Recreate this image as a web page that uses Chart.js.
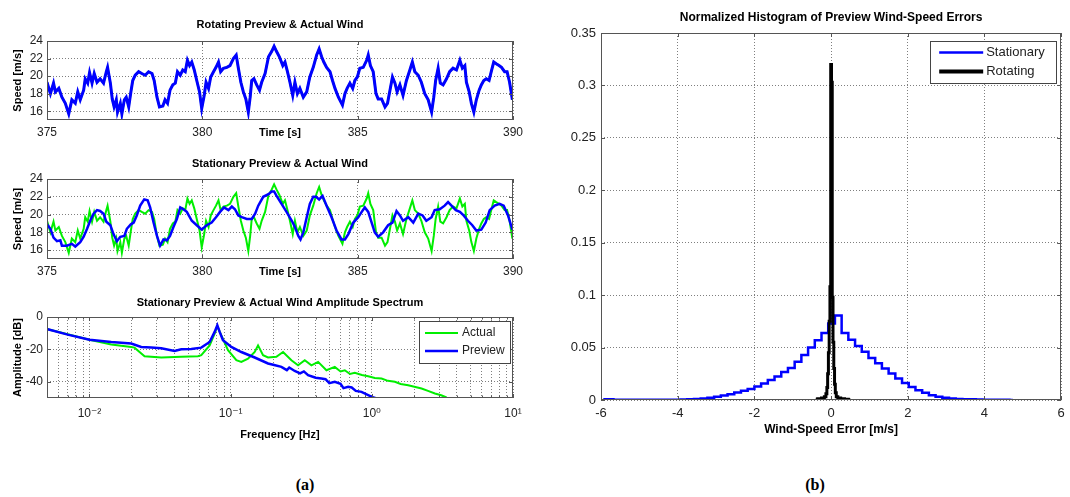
<!DOCTYPE html>
<html>
<head>
<meta charset="utf-8">
<script src="https://cdn.jsdelivr.net/npm/chart.js@4"></script>
<style>
body { margin: 0; background: #fff; width: 1070px; height: 497px; position: relative; overflow: hidden; }
canvas { position: absolute; }
.cap { position: absolute; top: 476px; width: 40px; text-align: center; font: bold 16px 'Liberation Serif', 'DejaVu Serif', serif; color: #000; }
</style>
</head>
<body>
<canvas id="rotChart" width="540" height="146" style="left:0;top:0"></canvas>
<canvas id="statChart" width="540" height="139" style="left:0;top:146px"></canvas>
<canvas id="specChart" width="540" height="160" style="left:0;top:285px"></canvas>
<canvas id="histChart" width="510" height="445" style="left:560px;top:0"></canvas>
<div class="cap" style="left:285px">(a)</div>
<div class="cap" style="left:795px">(b)</div>
<script>
// actual wind speed at the hub (also what the rotating preview sees)
var actualTime = [375.00,375.11,375.21,375.27,375.38,375.48,375.59,375.70,375.80,375.91,375.99,376.07,376.18,376.23,376.31,376.37,376.45,376.52,376.61,376.71,376.82,376.91,376.95,377.04,377.10,377.16,377.23,377.27,377.36,377.41,377.49,377.55,377.63,377.70,377.76,377.84,377.95,378.05,378.16,378.27,378.38,378.45,378.54,378.62,378.73,378.80,378.88,378.96,379.05,379.13,379.20,379.29,379.37,379.45,379.52,379.59,379.66,379.74,379.82,379.91,379.98,380.06,380.12,380.20,380.27,380.36,380.44,380.52,380.59,380.68,380.79,380.89,381.00,381.09,381.16,381.24,381.32,381.40,381.48,381.54,381.59,381.66,381.75,381.84,381.91,382.02,382.13,382.23,382.31,382.39,382.48,382.59,382.66,382.74,382.82,382.91,382.98,383.06,383.14,383.25,383.36,383.46,383.57,383.68,383.76,383.84,383.91,384.00,384.11,384.19,384.27,384.38,384.51,384.59,384.66,384.75,384.84,384.91,384.99,385.07,385.18,385.29,385.34,385.41,385.50,385.59,385.66,385.77,385.88,385.96,386.04,386.12,386.20,386.27,386.36,386.46,386.57,386.68,386.76,386.84,386.95,387.05,387.16,387.27,387.38,387.45,387.51,387.59,387.66,387.75,387.86,387.96,388.07,388.18,388.29,388.37,388.45,388.50,388.59,388.66,388.74,388.82,388.91,388.98,389.06,389.14,389.23,389.30,389.38,389.46,389.55,389.63,389.73,389.81,389.89,389.98];
var actualSpeed = [19.3,18.0,19.2,18.2,18.6,17.6,16.9,15.7,17.3,16.9,18.2,17.3,18.4,19.7,19.2,20.4,19.2,20.3,19.3,19.7,19.2,20.5,21.0,19.2,17.4,16.5,17.3,15.9,16.9,15.7,17.3,17.6,16.5,18.2,19.5,20.1,20.5,20.3,20.1,20.5,20.3,19.5,17.6,16.5,16.6,17.3,16.9,18.4,19.0,19.2,20.5,20.1,20.7,20.5,21.8,21.2,21.6,20.7,19.5,18.2,16.3,17.8,19.3,18.6,19.9,20.5,21.0,21.6,20.5,20.9,21.0,21.2,22.0,22.4,20.9,19.3,18.2,17.4,15.9,17.6,19.5,19.7,19.0,18.4,19.3,20.3,22.2,22.8,23.4,22.8,22.2,21.2,21.6,20.5,19.3,17.8,19.3,18.0,18.6,17.6,18.2,19.9,21.0,22.4,23.1,22.2,21.6,21.0,20.5,19.5,18.6,17.6,16.7,18.0,18.6,19.2,18.6,19.5,19.9,20.9,21.0,21.8,22.4,21.2,20.5,18.0,17.4,17.4,16.5,16.9,18.4,19.9,19.2,18.2,19.0,17.8,19.5,20.7,21.6,20.5,20.1,19.3,18.0,17.3,15.9,17.6,19.5,20.9,19.2,19.0,19.7,20.5,20.9,20.7,21.8,20.9,21.2,19.3,18.2,16.9,15.9,17.3,18.4,19.0,19.5,19.7,19.5,20.5,21.6,21.4,21.2,21.0,20.5,20.5,19.3,17.3];
var rotatingSpeed = actualSpeed;

// stationary lidar preview
var statTime = [375.00,375.11,375.21,375.32,375.43,375.48,375.64,375.80,375.91,376.07,376.18,376.29,376.39,376.50,376.61,376.71,376.82,376.91,377.04,377.14,377.25,377.36,377.49,377.57,377.70,377.79,377.89,378.00,378.13,378.24,378.32,378.43,378.54,378.64,378.75,378.86,378.96,379.07,379.18,379.29,379.39,379.50,379.66,379.82,379.98,380.14,380.30,380.44,380.57,380.70,380.84,380.95,381.05,381.16,381.27,381.43,381.59,381.70,381.80,381.96,382.13,382.23,382.31,382.39,382.55,382.71,382.88,382.98,383.09,383.16,383.25,383.36,383.46,383.57,383.66,383.76,383.87,384.00,384.16,384.32,384.48,384.59,384.70,384.86,385.02,385.13,385.23,385.34,385.45,385.55,385.66,385.82,385.98,386.12,386.25,386.36,386.46,386.63,386.79,386.95,387.09,387.21,387.38,387.48,387.64,387.80,387.91,388.02,388.16,388.29,388.41,388.55,388.69,388.82,388.98,389.12,389.25,389.41,389.57,389.70,389.84,389.98];
var statSpeed = [18.9,18.4,17.4,17.0,17.1,16.5,16.5,16.7,16.4,16.9,17.5,18.4,19.3,20.1,20.5,20.4,20.1,19.2,18.8,17.8,17.0,17.5,17.6,18.4,18.9,19.1,19.9,21.0,21.7,21.6,20.8,19.1,17.6,16.5,17.2,17.1,17.6,18.6,19.5,20.8,20.6,20.3,19.3,18.8,18.3,18.8,19.1,19.7,20.3,20.8,20.5,20.9,20.6,19.9,19.7,19.5,19.5,20.1,21.0,22.0,22.3,22.6,22.6,22.1,21.2,20.3,19.3,18.6,17.6,17.2,18.0,19.7,21.2,22.0,22.0,21.7,22.1,21.0,19.7,18.2,17.2,17.2,17.8,19.1,19.7,20.3,20.8,20.3,19.1,18.0,17.5,18.0,18.8,19.1,20.4,19.9,19.3,19.7,19.1,20.1,19.9,19.3,19.7,20.5,20.6,21.0,21.4,21.0,20.5,20.3,19.9,19.3,18.8,18.2,18.3,19.1,20.5,21.0,21.2,21.0,19.9,18.3];

var timeTicks = [375, 380, 385, 390];
var speedTicks = [16, 18, 20, 22, 24];

// amplitude spectrum
var prevFreq = [0.00506,0.00702,0.0100,0.01425,0.01974,0.02325,0.02738,0.03224,0.04006,0.04468,0.0526,0.06194,0.07097,0.0770,0.08043,0.08356,0.08823,0.1011,0.1190,0.1480,0.1840,0.2000,0.2287,0.2500,0.2600,0.2843,0.3100,0.3300,0.3535,0.4000,0.4395,0.4700,0.5000,0.5464,0.6000,0.6300,0.6796,0.7200,0.7700,0.8447,1.0,1.079];
var prevAmp = [-7.6,-10.9,-14.0,-15.4,-16.4,-18.5,-18.9,-19.3,-20.9,-19.9,-19.7,-18.9,-15.4,-9.2,-5.1,-9.2,-14.4,-18.5,-21.6,-25.0,-28.7,-29.5,-30.8,-32.8,-31.2,-33.3,-34.8,-33.6,-35.9,-37.5,-38.0,-38.4,-40.8,-40.0,-41.2,-43.9,-43.1,-43.5,-45.6,-46.2,-49.3,-50.3];
var actFreq = [0.00506,0.0100,0.01425,0.01974,0.02085,0.02455,0.03224,0.04468,0.05865,0.06194,0.07097,0.0770,0.08043,0.08587,0.09574,0.1097,0.1190,0.1327,0.1480,0.1563,0.1696,0.1840,0.2108,0.2350,0.2693,0.3002,0.3348,0.3733,0.4163,0.4770,0.5464,0.6000,0.6434,0.7000,0.7577,0.8500,0.9419,1.05,1.171,1.30,1.456,1.60,1.810,2.00,2.250,2.50,2.798,3.10,3.385];
var actAmp = [-7.6,-14.0,-17.0,-18.5,-18.9,-24.2,-25.0,-24.6,-24.2,-23.6,-17.5,-10.3,-5.7,-11.3,-20.5,-26.7,-27.7,-25.7,-21.6,-17.5,-23.6,-25.0,-24.6,-21.6,-26.7,-29.8,-26.7,-29.8,-27.7,-32.9,-30.8,-33.6,-32.9,-35.2,-34.5,-35.8,-36.6,-37.6,-38.0,-39.4,-40.0,-41.3,-42.1,-43.0,-44.1,-45.6,-47.2,-48.3,-49.7];
var freqMinor = [0.005,0.006,0.007,0.008,0.009,0.02,0.03,0.04,0.05,0.06,0.07,0.08,0.09,0.2,0.3,0.4,0.5,0.6,0.7,0.8,0.9,2,3,4,5,6,7,8,9];
var freqMajor = [0.01, 0.1, 1, 10];
var freqMajorLabels = ['10\u207B\u00B2', '10\u207B\u00B9', '10\u2070', '10\u00B9'];
var ampTicks = [-40, -20, 0];

// normalized histogram of preview errors
var statErr = [-5.94,-5.76,-5.59,-5.41,-5.24,-5.06,-4.89,-4.71,-4.54,-4.36,-4.19,-4.01,-3.84,-3.66,-3.49,-3.31,-3.14,-2.96,-2.79,-2.61,-2.44,-2.26,-2.09,-1.91,-1.74,-1.56,-1.39,-1.21,-1.04,-0.86,-0.69,-0.51,-0.34,-0.16,0.01,0.19,0.36,0.54,0.71,0.89,1.06,1.24,1.41,1.59,1.76,1.94,2.11,2.29,2.46,2.64,2.81,2.99,3.16,3.34,3.51,3.69,3.86,4.04,4.21,4.39,4.56,4.74];
var statProb = [0.0008,0.0006,0.0003,0.0003,0.0002,0.0002,0.0002,0.0003,0.0002,0.0002,0.0003,0.0003,0.0004,0.0006,0.0009,0.0014,0.0021,0.0030,0.0042,0.0056,0.0072,0.0088,0.0104,0.0128,0.0158,0.0190,0.0225,0.0268,0.0305,0.0365,0.0430,0.0500,0.0570,0.0640,0.0730,0.0805,0.0640,0.0575,0.0515,0.0460,0.0400,0.0350,0.0300,0.0252,0.0205,0.0162,0.0125,0.0094,0.0068,0.0046,0.0031,0.0021,0.0014,0.0010,0.0007,0.0006,0.0004,0.0003,0.0003,0.0002,0.0002,0.0001];
var rotErr = [-0.40,-0.30,-0.20,-0.15,-0.12,-0.10,-0.08,-0.06,-0.04,-0.02,0.00,0.02,0.04,0.06,0.08,0.10,0.12,0.15,0.20,0.30,0.40,0.50];
var rotProb = [0.0008,0.0012,0.0018,0.003,0.006,0.012,0.025,0.045,0.075,0.108,0.320,0.303,0.098,0.055,0.030,0.015,0.007,0.003,0.0018,0.0012,0.0008,0.0005];
var errTicks = [-6, -4, -2, 0, 2, 4, 6];
var probTicks = [0, 0.05, 0.1, 0.15, 0.2, 0.25, 0.3, 0.35];

Chart.defaults.font.family = "'Liberation Sans', 'DejaVu Sans', sans-serif";
Chart.defaults.color = '#222';
Chart.defaults.animation = false;

function points(xs, ys) {
    return xs.map(function (x, i) { return {x: x, y: ys[i]}; });
}

// frame round the plot area with small inward ticks, like matlab axes
var boxPlugin = {
    id: 'matlabBox',
    afterDraw: function (chart) {
        var ctx = chart.ctx, a = chart.chartArea;
        var xs = chart.scales.x, ys = chart.scales.y;
        ctx.save();
        ctx.strokeStyle = '#555';
        ctx.lineWidth = 1;
        ctx.beginPath();
        xs.ticks.forEach(function (t) {
            var px = Math.round(xs.getPixelForValue(t.value)) + 0.5;
            var len = t.label === '' ? 2.5 : 4;
            ctx.moveTo(px, a.bottom); ctx.lineTo(px, a.bottom - len);
            ctx.moveTo(px, a.top); ctx.lineTo(px, a.top + len);
        });
        ys.ticks.forEach(function (t) {
            var py = Math.round(ys.getPixelForValue(t.value)) + 0.5;
            ctx.moveTo(a.left, py); ctx.lineTo(a.left + 4, py);
            ctx.moveTo(a.right, py); ctx.lineTo(a.right - 4, py);
        });
        ctx.stroke();
        ctx.strokeRect(Math.round(a.left) + 0.5, Math.round(a.top) + 0.5, Math.round(a.width) - 1, Math.round(a.height) - 1);
        ctx.restore();
    }
};

// boxed legend inside the top right corner of the plot
var legendPlugin = {
    id: 'boxLegend',
    afterDraw: function (chart, args, o) {
        var ctx = chart.ctx, a = chart.chartArea;
        var items = chart.data.datasets.filter(function (d) { return d.label; });
        var left = a.right - o.right - o.width, top = a.top + o.top;
        var h = o.rowHeight * items.length + o.pad * 2;
        ctx.save();
        ctx.fillStyle = '#fff';
        ctx.fillRect(left, top, o.width, h);
        ctx.strokeStyle = '#444';
        ctx.lineWidth = 1;
        ctx.strokeRect(Math.round(left) + 0.5, Math.round(top) + 0.5, o.width, h);
        ctx.font = o.fontSize + "px 'Liberation Sans', sans-serif";
        ctx.textBaseline = 'middle';
        items.forEach(function (d, i) {
            var y = top + o.pad + o.rowHeight * (i + 0.5);
            ctx.strokeStyle = d.borderColor;
            ctx.lineWidth = o.lineWidths[i];
            ctx.beginPath();
            ctx.moveTo(left + o.lineStart, y);
            ctx.lineTo(left + o.lineEnd, y);
            ctx.stroke();
            ctx.fillStyle = '#222';
            ctx.fillText(d.label, left + o.textX, y);
        });
        ctx.restore();
    }
};

function axis(o) {
    return {
        type: o.type || 'linear',
        min: o.min,
        max: o.max,
        afterFit: function (s) {
            if (o.width !== undefined) s.width = o.width;
            if (o.height !== undefined) s.height = o.height;
        },
        afterBuildTicks: function (s) {
            s.ticks = o.ticks.map(function (v) { return {value: v}; });
        },
        grid: {color: 'rgba(0,0,0,0.5)', drawTicks: false, lineWidth: 1},
        border: {display: false, dash: [1, 2]},
        ticks: {
            padding: o.pad,
            autoSkip: false,
            maxRotation: 0,
            color: '#222',
            font: {size: o.fontSize || 12},
            callback: o.label || function (v) { return String(v); }
        },
        title: o.title ? {
            display: true,
            text: o.title,
            color: '#000',
            font: {size: o.titleSize || 11, weight: 'bold'},
            padding: o.titlePad
        } : {display: false}
    };
}

function titleOpts(text, size, top, bottom) {
    return {
        display: true, text: text, color: '#000', fullSize: false,
        font: {size: size, weight: 'bold'},
        padding: {top: top, bottom: bottom}
    };
}

var baseOpts = {
    responsive: false,
    devicePixelRatio: 1,
    events: [],
    layout: {autoPadding: false}
};

function line(label, data, color, width, order, stepped) {
    return {
        label: label, data: data, borderColor: color, borderWidth: width,
        pointRadius: 0, tension: 0, fill: false, order: order, stepped: stepped || false
    };
}

new Chart(document.getElementById('rotChart'), {
    type: 'line',
    data: {
        datasets: [
            line('', points(actualTime, rotatingSpeed), '#0000ff', 3, 1),
            line('', points(actualTime, actualSpeed), '#00ee00', 2, 2)
        ]
    },
    options: Object.assign({}, baseOpts, {
        layout: {autoPadding: false, padding: {left: 0, right: 27, top: 0, bottom: 0}},
        plugins: {
            legend: {display: false}, tooltip: {enabled: false},
            title: titleOpts('Rotating Preview & Actual Wind', 11, 18.4, 9.4)
        },
        scales: {
            x: axis({min: 375, max: 390, ticks: timeTicks, height: 26, pad: 5.8, title: 'Time [s]', titlePad: {top: 0, bottom: 6.4}}),
            y: axis({min: 15, max: 24, ticks: speedTicks, width: 47, pad: 4, title: 'Speed [m/s]', titlePad: {top: 11.4, bottom: 0}})
        }
    }),
    plugins: [boxPlugin]
});

new Chart(document.getElementById('statChart'), {
    type: 'line',
    data: {
        datasets: [
            line('Preview', points(statTime, statSpeed), '#0000ff', 2.5, 1),
            line('Actual', points(actualTime, actualSpeed), '#00ee00', 2, 2)
        ]
    },
    options: Object.assign({}, baseOpts, {
        layout: {autoPadding: false, padding: {left: 0, right: 27, top: 0, bottom: 0}},
        plugins: {
            legend: {display: false}, tooltip: {enabled: false},
            title: titleOpts('Stationary Preview & Actual Wind', 11, 11.4, 8.4)
        },
        scales: {
            x: axis({min: 375, max: 390, ticks: timeTicks, height: 26, pad: 5.8, title: 'Time [s]', titlePad: {top: 0, bottom: 6.4}}),
            y: axis({min: 15, max: 24, ticks: speedTicks, width: 47, pad: 4, title: 'Speed [m/s]', titlePad: {top: 11.4, bottom: 0}})
        }
    }),
    plugins: [boxPlugin]
});

var freqTicks = freqMinor.concat(freqMajor).sort(function (a, b) { return a - b; });

new Chart(document.getElementById('specChart'), {
    type: 'line',
    data: {
        datasets: [
            line('Actual', points(actFreq, actAmp), '#00ee00', 2, 2),
            line('Preview', points(prevFreq, prevAmp), '#0000ff', 2.5, 1)
        ]
    },
    options: Object.assign({}, baseOpts, {
        layout: {autoPadding: false, padding: {left: 0, right: 27, top: 0, bottom: 0}},
        plugins: {
            legend: {display: false}, tooltip: {enabled: false},
            title: titleOpts('Stationary Preview & Actual Wind Amplitude Spectrum', 11, 11.4, 7.4),
            boxLegend: {right: 3, top: 4, width: 91, rowHeight: 18, pad: 3, lineStart: 6, lineEnd: 39, textX: 43, fontSize: 12, lineWidths: [2, 2.5]}
        },
        scales: {
            x: axis({
                type: 'logarithmic', min: 0.005, max: 10, ticks: freqTicks, height: 47, pad: 8.8,
                title: 'Frequency [Hz]', titlePad: {top: 0, bottom: 3.4},
                label: function (v) {
                    var i = freqMajor.indexOf(v);
                    return i < 0 ? '' : freqMajorLabels[i];
                }
            }),
            y: axis({min: -50, max: 0, ticks: ampTicks, width: 47, pad: 4, title: 'Amplitude [dB]', titlePad: {top: 11.4, bottom: 0}})
        }
    }),
    plugins: [boxPlugin, legendPlugin]
});

new Chart(document.getElementById('histChart'), {
    type: 'line',
    data: {
        datasets: [
            line('Stationary', points(statErr, statProb), '#0000ff', 2.5, 2, 'middle'),
            line('Rotating', points(rotErr, rotProb), '#000000', 3, 1, 'middle')
        ]
    },
    options: Object.assign({}, baseOpts, {
        layout: {autoPadding: false, padding: {left: 0, right: 5, top: 0, bottom: 0}},
        plugins: {
            legend: {display: false}, tooltip: {enabled: false},
            title: titleOpts('Normalized Histogram of Preview Wind-Speed Errors', 12, 10.8, 7.8),
            boxLegend: {right: 5, top: 8, width: 126, rowHeight: 19, pad: 2, lineStart: 9, lineEnd: 53, textX: 56, fontSize: 13, lineWidths: [2.5, 4]}
        },
        scales: {
            x: axis({min: -6, max: 6, ticks: errTicks, height: 45, pad: 5.2, fontSize: 13, title: 'Wind-Speed Error [m/s]', titleSize: 12, titlePad: {top: 0, bottom: 7.8}}),
            y: axis({min: 0, max: 0.35, ticks: probTicks, width: 41, pad: 5, fontSize: 13})
        }
    }),
    plugins: [boxPlugin, legendPlugin]
});
</script>
</body>
</html>
